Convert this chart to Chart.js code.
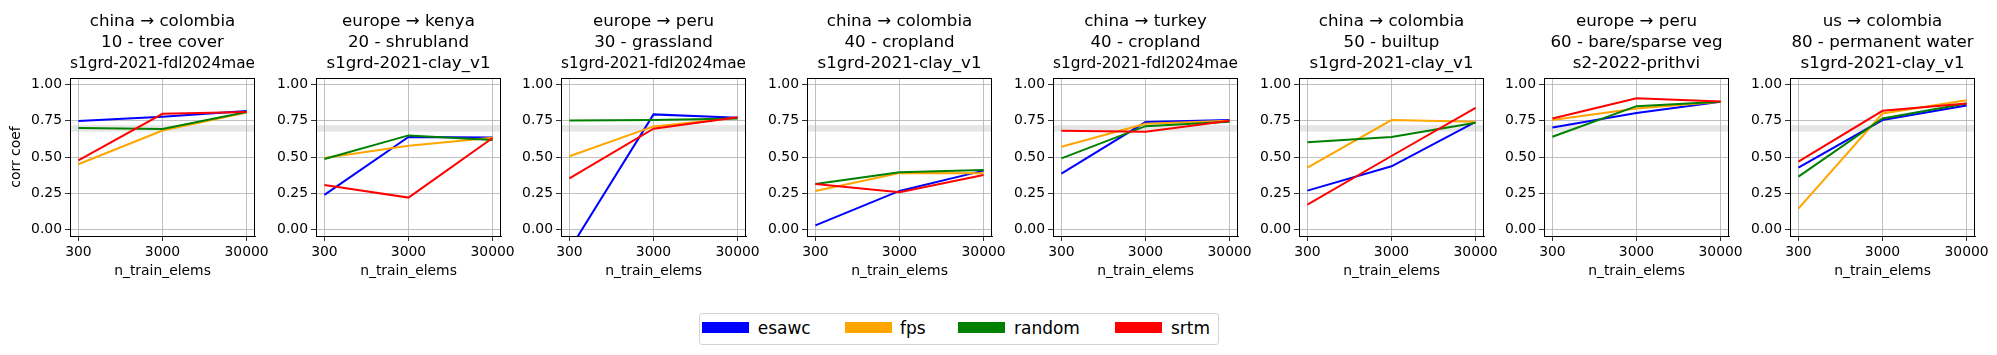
<!DOCTYPE html>
<html>
<head>
<meta charset="utf-8">
<script src="https://cdn.jsdelivr.net/npm/chart.js@4.4.1/dist/chart.umd.min.js"></script>
<style>
body { margin: 0; background: #fff; width: 1997px; height: 355px; overflow: hidden; position: relative; font-family: "DejaVu Sans", sans-serif; }
canvas.panel { position: absolute; top: 0; }
#legend { position: absolute; left: 699px; top: 313px; width: 520px; height: 32px; box-sizing: border-box; border: 1px solid #d4d4d4; border-radius: 3px; }
#legend .sw { position: absolute; top: 8px; width: 47px; height: 11px; }
#legend .lb { position: absolute; top: 4px; font-size: 17px; line-height: 20px; color: #000; white-space: nowrap; }
</style>
</head>
<body>
<div id="legend"></div>
<script>
// x values (n_train_elems) and y ticks
var nTrain = [300, 3000, 30000];
var yTicks = [0, 0.25, 0.5, 0.75, 1.0];
var bandLow = 0.675, bandHigh = 0.72;

var panelTitles = [
    ['china → colombia', '10 - tree cover', 's1grd-2021-fdl2024mae'],
    ['europe → kenya', '20 - shrubland', 's1grd-2021-clay_v1'],
    ['europe → peru', '30 - grassland', 's1grd-2021-fdl2024mae'],
    ['china → colombia', '40 - cropland', 's1grd-2021-clay_v1'],
    ['china → turkey', '40 - cropland', 's1grd-2021-fdl2024mae'],
    ['china → colombia', '50 - builtup', 's1grd-2021-clay_v1'],
    ['europe → peru', '60 - bare/sparse veg', 's2-2022-prithvi'],
    ['us → colombia', '80 - permanent water', 's1grd-2021-clay_v1']
];

// corr coef per panel, at 300 / 3000 / 30000
var esawc = [
    [0.748, 0.778, 0.817], [0.239, 0.638, 0.635], [-0.14, 0.794, 0.771], [0.028, 0.266, 0.406],
    [0.385, 0.741, 0.755], [0.268, 0.436, 0.743], [0.704, 0.803, 0.881], [0.427, 0.755, 0.856]
];
var fps = [
    [0.450, 0.683, 0.807], [0.493, 0.578, 0.633], [0.505, 0.711, 0.771], [0.266, 0.390, 0.388],
    [0.571, 0.729, 0.750], [0.427, 0.755, 0.743], [0.755, 0.835, 0.881], [0.144, 0.800, 0.892]
];
var random = [
    [0.700, 0.693, 0.810], [0.486, 0.649, 0.617], [0.752, 0.755, 0.766], [0.314, 0.394, 0.410],
    [0.491, 0.713, 0.743], [0.601, 0.638, 0.736], [0.640, 0.851, 0.881], [0.365, 0.766, 0.869]
];
var srtm = [
    [0.477, 0.798, 0.810], [0.307, 0.220, 0.631], [0.353, 0.695, 0.775], [0.314, 0.257, 0.376],
    [0.681, 0.674, 0.750], [0.172, 0.507, 0.839], [0.766, 0.906, 0.883], [0.468, 0.819, 0.869]
];

var seriesNames = ['esawc', 'fps', 'random', 'srtm'];
var seriesData = [esawc, fps, random, srtm];
var seriesColors = ['#0000ff', '#ffa500', '#008000', '#ff0000'];

Chart.defaults.font.family = 'DejaVu Sans';
Chart.defaults.color = '#000';

var tickFont = { family: 'DejaVu Sans', size: 13.9 };
var gridOpts = { color: '#b0b0b0', lineWidth: 0.8, tickColor: '#000', tickLength: 5 };
var borderOpts = { color: '#000', width: 1 };

// grey band behind the grid, black frame on top
var bandAndFrame = {
    id: 'bandAndFrame',
    beforeDraw: function(chart) {
        var a = chart.chartArea;
        var y = chart.scales.y;
        var y1 = y.getPixelForValue(bandHigh);
        var y2 = y.getPixelForValue(bandLow);
        var ctx = chart.ctx;
        ctx.save();
        ctx.fillStyle = 'rgba(128,128,128,0.2)';
        ctx.fillRect(a.left, y1, a.right - a.left, y2 - y1);
        ctx.restore();
    },
    afterDraw: function(chart) {
        var a = chart.chartArea;
        var ctx = chart.ctx;
        ctx.save();
        ctx.strokeStyle = '#000';
        ctx.lineWidth = 1;
        ctx.strokeRect(Math.round(a.left) + 0.5, Math.round(a.top) + 0.5,
            Math.round(a.right - a.left) - 1, Math.round(a.bottom - a.top));
        ctx.restore();
    }
};

function makePanel(i) {
    var plotLeft = 70 + i * 245.7;
    var canvas = document.createElement('canvas');
    canvas.className = 'panel';
    canvas.width = 275;
    canvas.height = 300;
    canvas.style.left = (plotLeft - 70) + 'px';
    document.body.appendChild(canvas);

    var datasets = [];
    for (var s = 0; s < seriesNames.length; s++) {
        var pts = [];
        for (var k = 0; k < nTrain.length; k++) {
            pts.push({ x: nTrain[k], y: seriesData[s][i][k] });
        }
        datasets.push({
            label: seriesNames[s],
            data: pts,
            borderColor: seriesColors[s],
            backgroundColor: seriesColors[s],
            borderWidth: 2,
            pointRadius: 0,
            tension: 0,
            order: seriesNames.length - s
        });
    }

    new Chart(canvas.getContext('2d'), {
        type: 'line',
        data: { datasets: datasets },
        options: {
            responsive: false,
            animation: false,
            layout: { padding: { left: 0, right: 20, top: 0, bottom: 0 } },
            plugins: {
                legend: { display: false },
                tooltip: { enabled: false },
                title: {
                    display: true,
                    text: panelTitles[i],
                    fullSize: false,
                    color: '#000',
                    font: { family: 'DejaVu Sans', size: 16.67, weight: 'normal', lineHeight: 1.26 },
                    padding: { top: 11.5, bottom: 3.5 }
                }
            },
            scales: {
                x: {
                    type: 'logarithmic',
                    min: 238.3,
                    max: 37768,
                    afterBuildTicks: function(s) { s.ticks = nTrain.map(function(v) { return { value: v }; }); },
                    afterFit: function(s) { s.height = 64; },
                    ticks: {
                        font: tickFont, color: '#000', padding: 3, maxRotation: 0, autoSkip: false,
                        callback: function(v) { return String(v); }
                    },
                    grid: gridOpts,
                    border: borderOpts,
                    title: {
                        display: true, text: 'n_train_elems', color: '#000',
                        font: tickFont, padding: { top: 0, bottom: 20 }
                    }
                },
                y: {
                    min: -0.045,
                    max: 1.045,
                    afterBuildTicks: function(s) { s.ticks = yTicks.map(function(v) { return { value: v }; }); },
                    afterFit: function(s) { s.width = 70; },
                    ticks: {
                        font: tickFont, color: '#000', padding: 3,
                        callback: function(v) { return Number(v).toFixed(2); }
                    },
                    grid: gridOpts,
                    border: borderOpts,
                    title: {
                        display: i === 0, text: 'corr coef', color: '#000',
                        font: tickFont, padding: { top: 7.7, bottom: 0 }
                    }
                }
            }
        },
        plugins: [bandAndFrame]
    });
}

for (var p = 0; p < panelTitles.length; p++) {
    makePanel(p);
}

// legend
var legend = document.getElementById('legend');
var swLeft = [2, 145, 258, 414.7];
var lbLeft = [57.7, 200, 314, 471];
for (var j = 0; j < seriesNames.length; j++) {
    var sw = document.createElement('span');
    sw.className = 'sw';
    sw.style.left = swLeft[j] + 'px';
    sw.style.background = seriesColors[j];
    legend.appendChild(sw);
    var lb = document.createElement('span');
    lb.className = 'lb';
    lb.style.left = lbLeft[j] + 'px';
    lb.textContent = seriesNames[j];
    legend.appendChild(lb);
}
</script>
</body>
</html>
